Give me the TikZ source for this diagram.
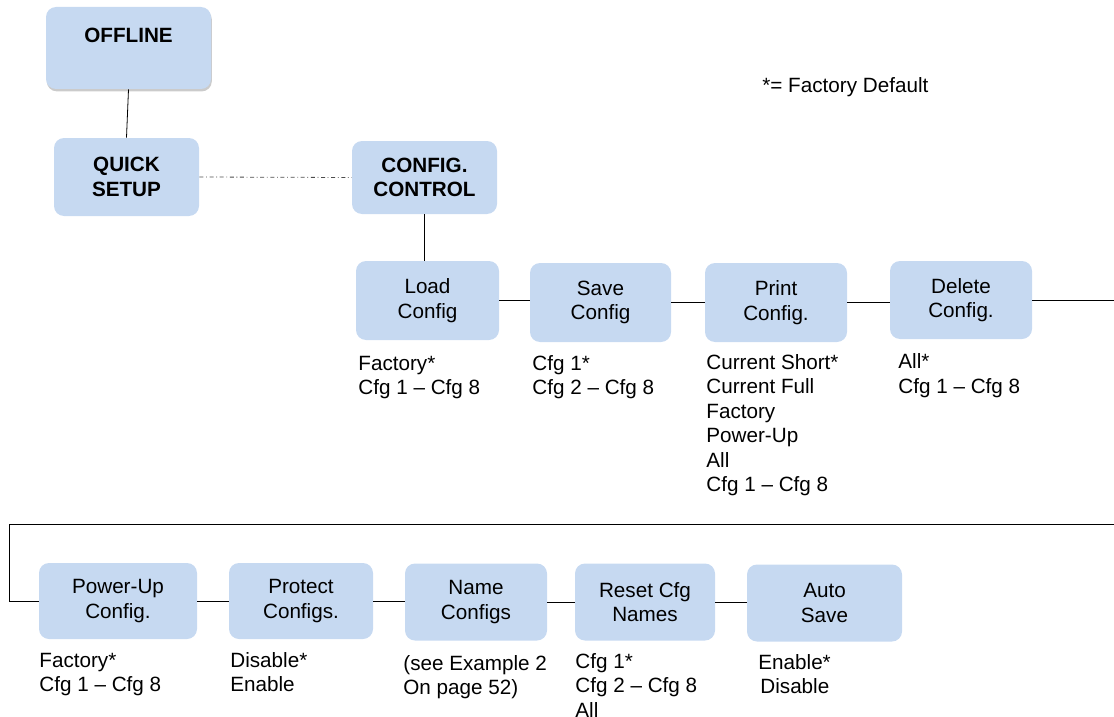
\documentclass[tikz,border=0pt]{standalone}
\usepackage{fontspec}
\setmainfont{Liberation Sans}
\usetikzlibrary{shadows}
\definecolor{boxblue}{RGB}{198,217,241}
\tikzset{
  menu/.style 2 args={fill=boxblue, rounded corners=7.5pt, align=center, inner sep=0pt,
    minimum width=#1*0.75pt, minimum height=#2*0.75pt},
  opts/.style={anchor=north west, align=left, inner sep=0pt},
  every node/.style={font=\fontsize{15.5}{18.4}\selectfont},
}

\begin{document}
\begin{tikzpicture}[x=0.75pt,y=-0.75pt,line width=0.6pt]
\useasboundingbox (0,0) rectangle (1114,717);

\node [menu={165}{82}, font=\fontsize{15.5}{18.4}\selectfont\bfseries,
  drop shadow={shadow xshift=0.6pt, shadow yshift=-1.8pt, opacity=0.45, fill=black!45}] (offline) at (128.5,48) {OFFLINE\\~};
\node [menu={145}{78}, font=\fontsize{15.5}{18.4}\selectfont\bfseries] (quick) at (126.5,177) {QUICK\\SETUP};
\node [menu={145}{73}, font=\fontsize{15.5}{18.4}\selectfont\bfseries] (control) at (424.5,177.5) {CONFIG.\\CONTROL};
\node at (762,93) [anchor=base west, inner sep=0pt] (legend) {*= Factory Default};

\node [menu={143}{79}] (load) at (427.5,300.5) {Load\\Config};
\node [menu={141}{79}] (save) at (600.5,302.5) {Save\\Config};
\node [menu={142}{79}] (print) at (776,302.5) {Print\\Config.};
\node [menu={142}{78}] (delete) at (961,300) {Delete\\Config.};

\node [opts] (loadopts) at (358,352.7) {\strut Factory*\\Cfg 1 -- Cfg 8};
\node [opts] (saveopts) at (532,352.7) {\strut Cfg 1*\\Cfg 2 -- Cfg 8};
\node [opts] (printopts) at (706,351.7) {\strut Current Short*\\Current Full\\Factory\\Power-Up\\All\\Cfg 1 -- Cfg 8};
\node [opts] (deleteopts) at (898,351.2) {\strut All*\\Cfg 1 -- Cfg 8};

\node [menu={158}{76}] (powerup) at (118,601) {Power-Up\\Config.};
\node [menu={144}{76}] (protect) at (301,601) {Protect\\Configs.};
\node [menu={142}{77}] (name) at (476,602) {Name\\Configs};
\node [menu={140}{77}] (reset) at (645,602) {Reset Cfg\\Names};
\node [menu={155}{77}] (autosave) at (824.5,603) {Auto\\Save};

\node [opts] (poweropts) at (39,649.7) {\strut Factory*\\Cfg 1 -- Cfg 8};
\node [opts] (protectopts) at (230,649.7) {\strut Disable*\\Enable};
\node [opts] (nameopts) at (403,652.7) {\strut(see Example 2\\On page 52)};
\node [opts] (resetopts) at (575,650.7) {\strut Cfg 1*\\Cfg 2 -- Cfg 8\\All};
\node [opts] (autoopts) at (758,651.7) {\strut Enable*\\\hspace{1.5pt}Disable};

\coordinate (edge) at (1114,300);
\coordinate (wrapR) at (1114,524);
\coordinate (wrapL) at (9,524);

\draw (offline.south) -- (quick.north);
\draw [black!70, dash dot] (quick.east) -- (control.west);
\draw (control.south) -- (control.south |- load.north);
\draw (load.east) -- (load.east -| save.west);
\draw (save.east) -- (save.east -| print.west);
\draw (print.east) -- (print.east -| delete.west);
\draw (delete.east) -- (delete.east -| edge);
\draw (wrapR) -- (wrapL) |- (powerup.west);
\draw (powerup.east) -- (powerup.east -| protect.west);
\draw (protect.east) -- (protect.east -| name.west);
\draw (name.east) -- (name.east -| reset.west);
\draw (reset.east) -- (reset.east -| autosave.west);

\end{tikzpicture}
\end{document}
